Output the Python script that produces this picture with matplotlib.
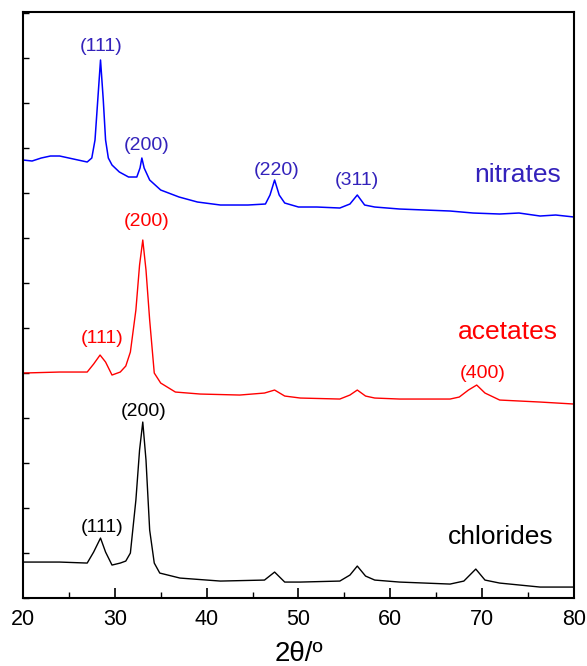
import numpy as np
import matplotlib
matplotlib.use("Agg")
import matplotlib.pyplot as plt
from matplotlib.ticker import MultipleLocator

plt.rcParams["font.family"] = ["Liberation Sans", "DejaVu Sans"]

# XRD patterns (2theta in degrees, stacked intensity in a.u.)
tt_nit = [20.0, 21.0, 22.0, 23.0, 24.0, 25.0, 26.0, 27.0, 27.5, 27.85, 28.15, 28.45, 28.75, 29.0,
          29.3, 29.7, 30.5, 31.5, 32.4, 32.75, 32.95, 33.2, 33.8, 35.0, 37.0, 39.0, 41.5, 44.5,
          46.4, 46.9, 47.4, 47.9, 48.5, 50.0, 52.0, 54.5, 55.6, 56.4, 57.2, 58.3, 61.0, 66.5,
          69.0, 71.9, 74.0, 76.3, 78.0, 80.0]
i_nit = [438, 437, 440, 442, 442, 440, 438, 436, 440, 458, 498, 538, 498, 458,
         440, 433, 426, 421, 421, 430, 440, 430, 418, 408, 401, 396, 393, 393,
         394, 403, 418, 403, 395, 391, 391, 390, 394, 403, 393, 391, 389, 387,
         385, 384, 385, 382, 383, 381]

tt_ace = [20.0, 24.0, 27.0, 27.7, 28.4, 29.0, 29.7, 30.6, 31.2, 31.7, 32.3, 32.7, 33.05, 33.4,
          33.8, 34.3, 35.0, 36.6, 39.3, 43.6, 46.3, 47.4, 48.5, 50.2, 54.5, 55.6, 56.4, 57.3,
          58.3, 61.0, 66.5, 67.5, 68.5, 69.4, 70.3, 71.9, 76.3, 80.0]
i_ace = [225, 226, 226, 234, 243, 236, 223, 226, 232, 246, 288, 333, 358, 328,
         278, 225, 215, 206, 204, 203, 205, 208, 202, 200, 199, 203, 208, 202,
         200, 199, 199, 201, 208, 213, 205, 198, 196, 194]

tt_chl = [20.0, 24.0, 27.0, 27.7, 28.45, 29.0, 29.7, 30.6, 31.2, 31.7, 32.3, 32.7, 33.05, 33.4,
          33.8, 34.3, 34.9, 37.1, 41.5, 46.3, 47.4, 48.5, 50.2, 54.5, 55.6, 56.4, 57.3, 58.3,
          61.0, 66.5, 68.0, 69.3, 70.3, 71.9, 76.3, 80.0]
i_chl = [36, 36, 35, 46, 60, 46, 33, 35, 37, 45, 98, 148, 176, 138,
         68, 35, 25, 20, 17, 18, 26, 16, 16, 17, 23, 32, 22, 18,
         16, 14, 17, 29, 18, 15, 11, 11]

# peak labels: (text, 2theta, height)
lab_nit = [("(111)", 28.5, 551), ("(200)", 33.5, 453), ("(220)", 47.6, 428), ("(311)", 56.4, 418)]
lab_ace = [("(200)", 33.5, 377), ("(111)", 28.6, 260), ("(400)", 70.0, 225)]
lab_chl = [("(200)", 33.1, 187), ("(111)", 28.6, 71)]

BLUE_T, RED_T = "#3322bb", "#ff0000"

fig = plt.figure(figsize=(5.87, 6.66), dpi=100)
ax = fig.add_axes([0.039, 0.102, 0.939, 0.880])

ax.plot(tt_nit, i_nit, color="#0000ff", lw=1.1)
ax.plot(tt_ace, i_ace, color="#ff0000", lw=1.0)
ax.plot(tt_chl, i_chl, color="black", lw=1.0)

for labs, c in [(lab_nit, BLUE_T), (lab_ace, RED_T), (lab_chl, "black")]:
    for t, x, y in labs:
        ax.text(x, y, t, color=c, fontsize=14, ha="center", va="center")

ax.text(73.9, 423, "nitrates", color=BLUE_T, fontsize=19, ha="center", va="center")
ax.text(72.8, 266, "acetates", color=RED_T, fontsize=19, ha="center", va="center")
ax.text(72.0, 61, "chlorides", color="black", fontsize=19, ha="center", va="center")

ax.set_xlim(20, 80)
ax.set_ylim(0, 586)
ax.xaxis.set_major_locator(MultipleLocator(10))
ax.xaxis.set_minor_locator(MultipleLocator(5))
ax.set_yticks(np.arange(0, 586, 45))
ax.set_yticklabels([])
ax.tick_params(axis="x", which="major", direction="in", length=7, width=1.2, labelsize=15.5, pad=8)
ax.tick_params(axis="x", which="minor", direction="in", length=4, width=1.0)
ax.tick_params(axis="y", which="major", direction="in", length=4, width=1.0)
for s in ax.spines.values():
    s.set_linewidth(1.5)
ax.set_xlabel("2θ/º", fontsize=20, labelpad=8)

fig.savefig("out.png", dpi=100)
